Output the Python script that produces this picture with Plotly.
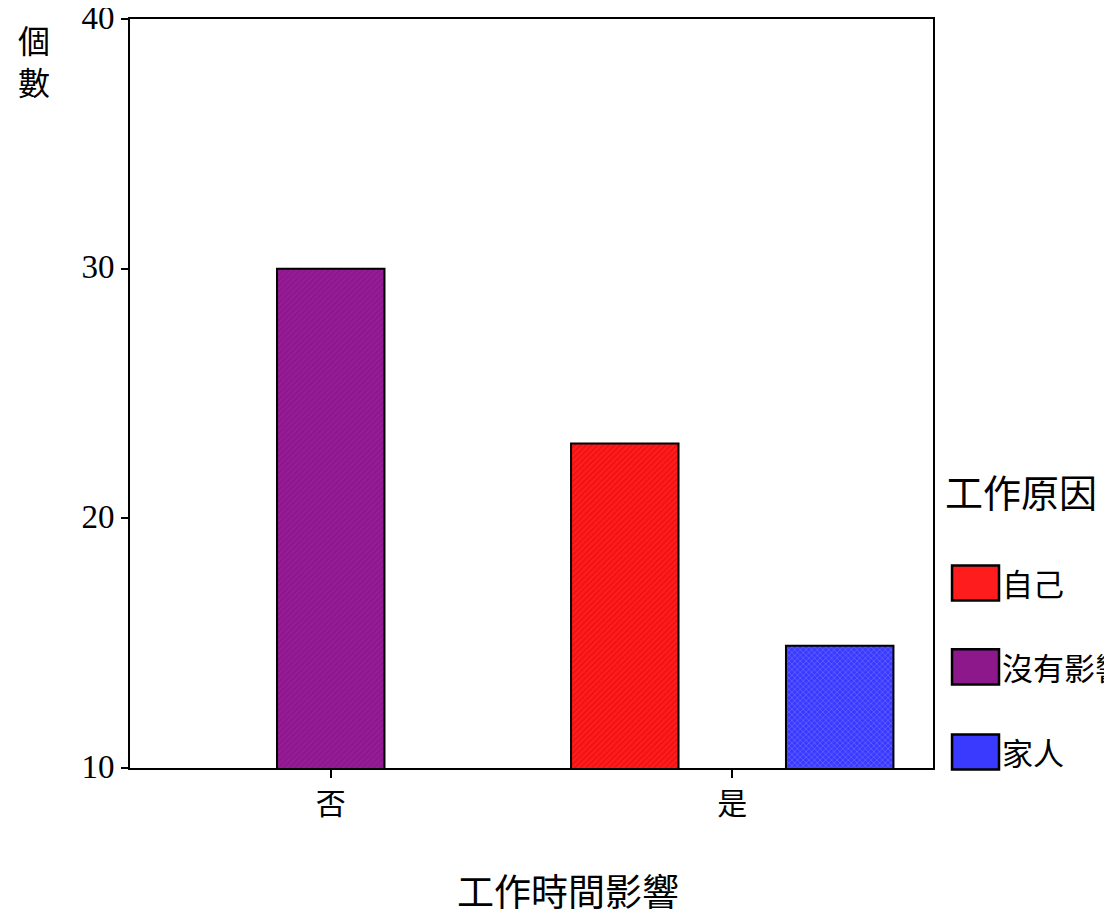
import plotly.graph_objects as go

categories = ["否", "是"]
series_names = ["自己", "沒有影響", "家人"]
values_self = [None, 23]
values_none = [30, None]
values_family = [None, 14.9]
y_ticks = [10, 20, 30, 40]

colors = ["#ff1c1c", "#8c188c", "#3a3aff"]
fgcolors = ["#d00000", "#b020b0", "#9a9aff"]
shapes_pat = ["/", "/", "x"]

CJK = "Noto Sans CJK TC"

fig = go.Figure()
for name, vals, c, fc, sp in zip(series_names, [values_self, values_none, values_family],
                                 colors, fgcolors, shapes_pat):
    fig.add_trace(go.Bar(
        x=categories, y=vals, name=name,
        marker=dict(color=c, line=dict(color="black", width=2),
                    pattern=dict(shape=sp, fgcolor=fc, size=4, solidity=0.3)),
        showlegend=False,
    ))

# page body has an 8px margin, so the figure is shrunk and shifted by 8px
fig.update_layout(
    width=1104, height=908,
    margin=dict(l=122, r=179, t=11, b=148),
    paper_bgcolor="white", plot_bgcolor="white",
    barmode="group", bargap=0.197, bargroupgap=0,
    font=dict(family=CJK, color="black"),
    xaxis=dict(showline=True, linecolor="black", linewidth=2, mirror=True,
               ticks="outside", ticklen=8, tickwidth=2, tickcolor="black",
               tickfont=dict(size=30, family=CJK),
               showgrid=False, zeroline=False, automargin=False),
    yaxis=dict(range=[10, 40], tickvals=y_ticks, showline=True, linecolor="black",
               linewidth=2, mirror=True, ticks="outside", ticklen=7, tickwidth=2,
               tickcolor="black", tickfont=dict(size=33, family="Liberation Serif"),
               ticklabeloverflow="allow", ticklabelshift=-2,
               showgrid=False, zeroline=False, automargin=False),
)

# x-axis title
fig.add_annotation(text="工作時間影響", xref="paper", yref="paper", x=0.545, y=-0.163,
                   xanchor="center", yanchor="middle", showarrow=False,
                   font=dict(size=37, family=CJK))

# y-axis title stacked at top-left
fig.add_annotation(text="個<br>數", xref="paper", yref="paper", x=-0.119,
                   y=(768 - 60) / 749, xanchor="center", yanchor="middle",
                   showarrow=False, font=dict(size=32, family=CJK))

# legend (drawn manually)
fig.add_annotation(text="工作原因", xref="paper", yref="paper", x=1.012, y=0.37,
                   xanchor="left", yanchor="middle", showarrow=False,
                   font=dict(size=38, family=CJK))
leg_y = [0.247, 0.135, 0.0214]
for name, c, fc, ly in zip(series_names, colors, fgcolors, leg_y):
    fig.add_shape(type="rect", xref="paper", yref="paper",
                  x0=1.0237, x1=1.0822, y0=ly - 0.0234, y1=ly + 0.0234,
                  fillcolor=c, line=dict(color="black", width=2.5))
    fig.add_annotation(text=name, xref="paper", yref="paper", x=1.083, y=ly,
                       xanchor="left", yanchor="middle", showarrow=False,
                       font=dict(size=31, family=CJK))

fig.write_html("out.html")
